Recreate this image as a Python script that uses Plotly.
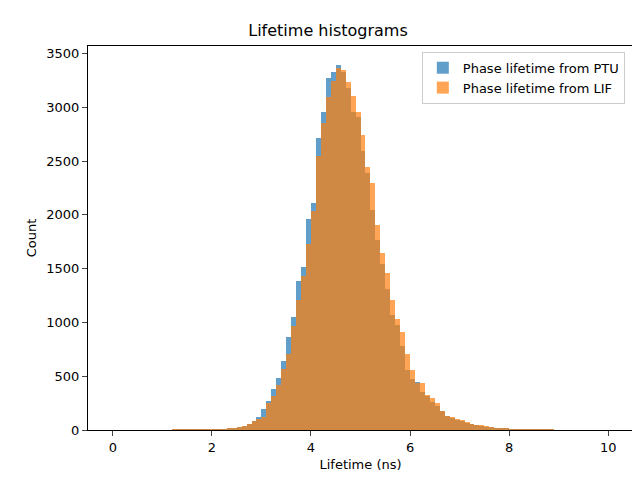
import plotly.graph_objects as go

bin_left = [round(1.0 + 0.1*i, 1) for i in range(80)]  # 1.0 .. 8.9
ptu = [0,0,2,3,2,3,3,4,5,4, 5,6,8,12,18,30,40,60,85,120, 198,272,380,481,639,861,1055,1389,1518,1963,
       2111,2713,2954,3268,3324,3389,3324,3176,2954,2907, 2593,2389,2046,1768,1546,1315,1065,972,778,556,
       472,444,352,320,259,222,176,130,110,95, 80,65,55,45,38,30,24,18,13,10, 8,6,5,4,3,2,2,1,1,0]
lif = [0,0,1,2,2,2,3,3,4,4, 4,5,7,10,15,25,35,52,83,102, 124,250,318,417,565,707,966,1213,1435,1731,
       2040,2543,2858,3093,3244,3370,3343,3231,3102,2954, 2741,2444,2296,1907,1648,1463,1213,1028,907,704,
       556,435,435,324,296,250,176,130,120,102, 90,72,60,50,42,35,28,20,15,12, 9,7,5,4,3,2,2,1,1,0]

x = [b + 0.05 for b in bin_left]

fig = go.Figure()
fig.add_trace(go.Bar(x=x, y=ptu, width=0.1, name="Phase lifetime from PTU",
                     marker=dict(color="#1f77b4", line=dict(width=0)), opacity=0.7))
fig.add_trace(go.Bar(x=x, y=lif, width=0.1, name="Phase lifetime from LIF",
                     marker=dict(color="#ff7f0e", line=dict(width=0)), opacity=0.7))
fig.update_layout(
    width=640, height=480, barmode="overlay", bargap=0,
    paper_bgcolor="white", plot_bgcolor="white",
    font=dict(family="DejaVu Sans", size=13, color="black"),
    title=dict(text="Lifetime histograms", x=0.5, xanchor="center", y=0.953, yanchor="middle", font=dict(size=16)),
    margin=dict(l=80, r=15, t=38, b=58),
    xaxis=dict(title=dict(text="Lifetime (ns)", standoff=6, font=dict(size=13)), range=[-0.5, 10.5],
               tickvals=[0,2,4,6,8,10], automargin=False, tickfont=dict(size=13),
               showline=True, mirror=True, linecolor="black", ticks="outside", showgrid=False, zeroline=False),
    yaxis=dict(title=dict(text="Count", standoff=6, font=dict(size=13)), range=[0, 3570],
               tickvals=list(range(0, 3501, 500)), automargin=False, tickfont=dict(size=13),
               showline=True, mirror=True, linecolor="black", ticks="outside", showgrid=False, zeroline=False),
    legend=dict(x=0.985, y=0.985, xanchor="right", yanchor="top", bordercolor="#cccccc", borderwidth=1,
                bgcolor="rgba(255,255,255,0.8)", font=dict(size=13)),
)
fig.write_html("out.html")
